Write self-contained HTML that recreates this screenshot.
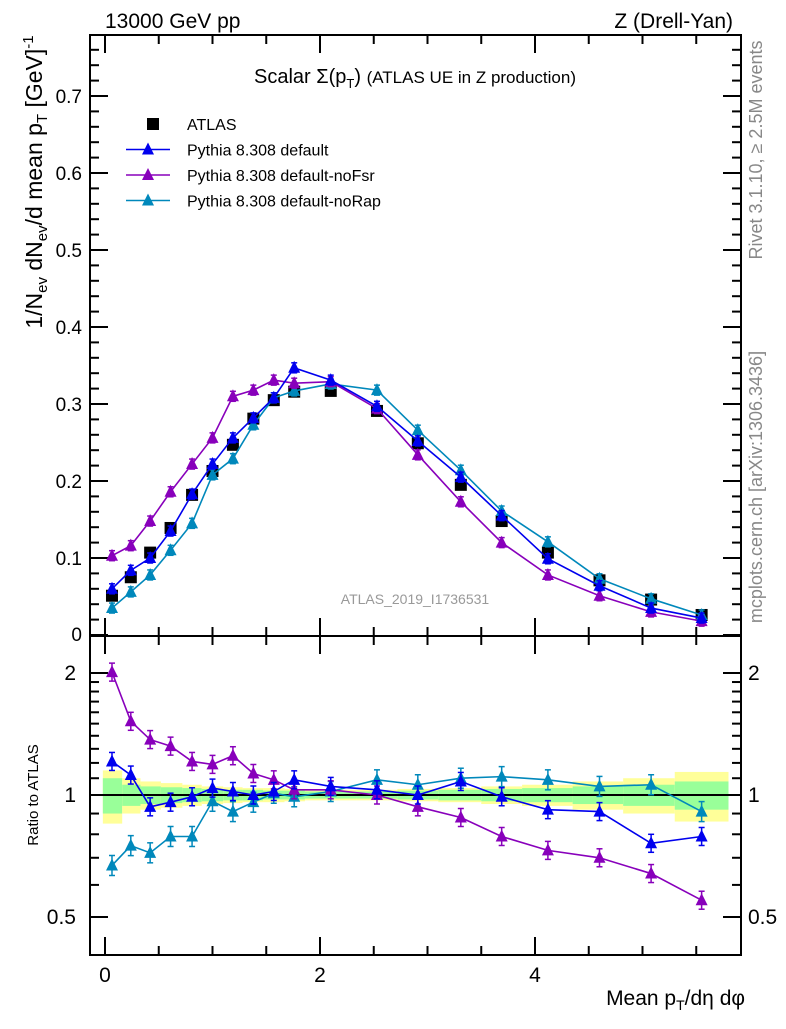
<!DOCTYPE html>
<html><head><meta charset="utf-8"><style>
body{margin:0;background:#fff}
svg{font-family:"Liberation Sans",sans-serif}
</style></head><body>
<svg id="c" width="786" height="1024" xmlns="http://www.w3.org/2000/svg">
<text x="105" y="28" font-size="21">13000 GeV pp</text>
<text x="733" y="28" font-size="21" text-anchor="end">Z (Drell-Yan)</text>
<text x="415" y="83" font-size="20" text-anchor="middle">Scalar Σ(p<tspan font-size="13" dy="5">T</tspan><tspan dy="-5">) </tspan><tspan font-size="17">(ATLAS UE in Z production)</tspan></text>
<text x="415" y="604" font-size="14" fill="#999" text-anchor="middle">ATLAS_2019_I1736531</text>
<text transform="translate(762,150) rotate(-90)" font-size="18" fill="#888" text-anchor="middle">Rivet 3.1.10, ≥ 2.5M events</text>
<text transform="translate(762,487) rotate(-90)" font-size="18" fill="#888" text-anchor="middle">mcplots.cern.ch [arXiv:1306.3436]</text>
<text transform="translate(42,182) rotate(-90)" font-size="23" text-anchor="middle">1/N<tspan font-size="15" dy="5">ev</tspan><tspan dy="-5"> dN</tspan><tspan font-size="15" dy="5">ev</tspan><tspan dy="-5">/d mean p</tspan><tspan font-size="15" dy="5">T</tspan><tspan dy="-5"> [GeV]</tspan><tspan font-size="15" dy="-9">-1</tspan></text>
<text transform="translate(38,795) rotate(-90)" font-size="15" text-anchor="middle">Ratio to ATLAS</text>
<text x="745" y="1005" font-size="21" text-anchor="end">Mean p<tspan font-size="14" dy="5">T</tspan><tspan dy="-5">/dη dφ</tspan></text>
<g id="g"></g>
</svg>
<script>
const xs=[0.065,0.24,0.42,0.61,0.81,1.0,1.19,1.38,1.57,1.76,2.1,2.53,2.91,3.31,3.69,4.12,4.6,5.08,5.55];
const atlas=[0.051,0.075,0.107,0.139,0.182,0.213,0.247,0.281,0.305,0.316,0.317,0.291,0.249,0.195,0.148,0.107,0.071,0.046,0.026];
const pDefault=[0.060,0.084,0.100,0.135,0.183,0.222,0.256,0.282,0.308,0.347,0.331,0.297,0.252,0.205,0.155,0.099,0.064,0.035,0.022];
const pNoFsr=[0.103,0.116,0.148,0.186,0.222,0.256,0.310,0.318,0.331,0.327,0.329,0.294,0.234,0.173,0.120,0.078,0.051,0.030,0.018];
const pNoRap=[0.035,0.056,0.078,0.110,0.145,0.208,0.229,0.273,0.308,0.317,0.326,0.318,0.266,0.214,0.161,0.121,0.073,0.047,0.026];
const rDefault=[1.21,1.12,0.935,0.96,0.99,1.04,1.02,1.0,1.02,1.09,1.05,1.03,1.0,1.08,0.99,0.92,0.91,0.76,0.79];
const rNoFsr=[2.01,1.52,1.37,1.32,1.21,1.19,1.25,1.13,1.09,1.03,1.03,1.0,0.935,0.88,0.79,0.73,0.70,0.64,0.55];
const rNoRap=[0.67,0.75,0.72,0.79,0.79,0.965,0.91,0.96,1.01,0.99,1.02,1.09,1.06,1.10,1.11,1.09,1.05,1.06,0.91];
const binEdges=[-0.02,0.16,0.33,0.52,0.72,0.9,1.1,1.28,1.47,1.67,1.86,2.34,2.72,3.1,3.5,3.88,4.35,4.82,5.3,5.8];
const yellowHalf=[0.15,0.1,0.08,0.07,0.06,0.05,0.045,0.04,0.04,0.035,0.03,0.03,0.035,0.04,0.05,0.06,0.08,0.1,0.14];
const greenHalf=[0.1,0.06,0.05,0.045,0.04,0.035,0.03,0.03,0.025,0.025,0.02,0.02,0.025,0.03,0.035,0.04,0.05,0.06,0.08];
const xTicks=[0,2,4];
const yTicks=[0.1,0.2,0.3,0.4,0.5,0.6,0.7];
const rTicks=[0.5,1,2];

const L=90,R=741,T=35,MB=636,RB=955;
const X=v=>105+v*107.5;
const Y=v=>635-v*770;
const RY=v=>795-122*Math.log2(v);
const g=document.getElementById('g');
const NS='http://www.w3.org/2000/svg';
function el(t,a){const e=document.createElementNS(NS,t);for(const k in a)e.setAttribute(k,a[k]);g.appendChild(e);return e;}

for(let i=0;i<xs.length;i++){
 const x0=Math.max(X(binEdges[i]),L+1),x1=Math.min(X(binEdges[i+1]),R-1);
 const y=el('rect',{x:x0,y:RY(1+yellowHalf[i]),width:x1-x0,height:RY(1-yellowHalf[i])-RY(1+yellowHalf[i]),fill:'#ffff99'});
 
 
 const gr=el('rect',{x:x0,y:RY(1+greenHalf[i]),width:x1-x0,height:RY(1-greenHalf[i])-RY(1+greenHalf[i]),fill:'#99ff99'});
 
 
}
el('line',{x1:L,x2:R,y1:RY(1),y2:RY(1),stroke:'#000','stroke-width':2});

el('rect',{x:L,y:T,width:R-L,height:MB-T,fill:'none',stroke:'#000','stroke-width':2});
el('rect',{x:L,y:MB,width:R-L,height:RB-MB,fill:'none',stroke:'#000','stroke-width':2});

for(let v=0;v<=6;v+=0.5){const x=X(v);if(x>R)break;const big=v%2===0,l=big?18:9;
 [[MB,-1],[T,1],[RB,-1],[MB,1]].forEach(([y0,d])=>el('line',{x1:x,x2:x,y1:y0,y2:y0+d*l,stroke:'#000','stroke-width':2}));}
for(const v of xTicks){const t=el('text',{x:X(v),y:982,'font-size':21,'text-anchor':'middle'});t.textContent=v;
 
 }
for(let k=0;k<=39;k++){const v=k*0.02;const y=Y(v);if(y<T)break;const big=k%5===0,l=big?18:9;
 el('line',{x1:L,x2:L+l,y1:y,y2:y,stroke:'#000','stroke-width':2});el('line',{x1:R,x2:R-l,y1:y,y2:y,stroke:'#000','stroke-width':2});}
{const t=el('text',{x:82,y:641,'font-size':19,'text-anchor':'end'});t.textContent='0';
 
 }
for(const v of yTicks){const t=el('text',{x:82,y:Y(v)+7,'font-size':19,'text-anchor':'end'});t.textContent=v.toFixed(1);
 
 }
const rm=[0.4,0.5,0.6,0.7,0.8,0.9,1,1.1,1.2,1.3,1.4,1.5,1.6,1.7,1.8,1.9,2];
for(const v of rm){const y=RY(v);if(y>RB||y<MB)continue;const big=rTicks.includes(v),l=big?18:9;
 el('line',{x1:L,x2:L+l,y1:y,y2:y,stroke:'#000','stroke-width':2});el('line',{x1:R,x2:R-l,y1:y,y2:y,stroke:'#000','stroke-width':2});}
for(const v of rTicks){
 const t=el('text',{x:76,y:RY(v)+7,'font-size':21,'text-anchor':'end'});t.textContent=v;
 
 
 const t2=el('text',{x:748,y:RY(v)+7,'font-size':21});t2.textContent=v;
 
 }

function tri(x,y,c){return el('path',{d:`M${x-6},${y+5}L${x+6},${y+5}L${x},${y-7}Z`,fill:c});}
function series(vals,fy,c,name,eb){
 el('polyline',{points:vals.map((v,i)=>X(xs[i])+','+fy(v)).join(' '),fill:'none',stroke:c,'stroke-width':1.6});
 vals.forEach((v,i)=>{const y=fy(v),x=X(xs[i]);
  el('line',{x1:x,x2:x,y1:y-eb,y2:y+eb,stroke:c,'stroke-width':1.5});
  el('line',{x1:x-3,x2:x+3,y1:y-eb,y2:y-eb,stroke:c,'stroke-width':1.5});
  el('line',{x1:x-3,x2:x+3,y1:y+eb,y2:y+eb,stroke:c,'stroke-width':1.5});
  const m=tri(x,y,c);
  
  });
}
atlas.forEach((v,i)=>{const m=el('rect',{x:X(xs[i])-6,y:Y(v)-6,width:12,height:12,fill:'#000'});
 
 });
series(pNoRap,Y,'#0088bb','norap',5);
series(pNoFsr,Y,'#8800bb','nofsr',5);
series(pDefault,Y,'#0000ee','default',5);
series(rNoRap,RY,'#0088bb','norap-ratio',10);
series(rNoFsr,RY,'#8800bb','nofsr-ratio',9);
series(rDefault,RY,'#0000ee','default-ratio',9);

const legNames=['ATLAS','Pythia 8.308 default','Pythia 8.308 default-noFsr','Pythia 8.308 default-noRap'];
const legCols=['#000','#0000ee','#8800bb','#0088bb'];
legNames.forEach((n,i)=>{const y=124+i*25.5;
 if(i===0){el('rect',{x:147,y:y-6,width:12,height:12,fill:'#000'});}
 else{el('line',{x1:126,x2:170,y1:y,y2:y,stroke:legCols[i],'stroke-width':1.6});tri(148,y,legCols[i]);}
 const t=el('text',{x:187,y:y+6,'font-size':16});t.textContent=n;
 
 });
</script>
</body></html>
